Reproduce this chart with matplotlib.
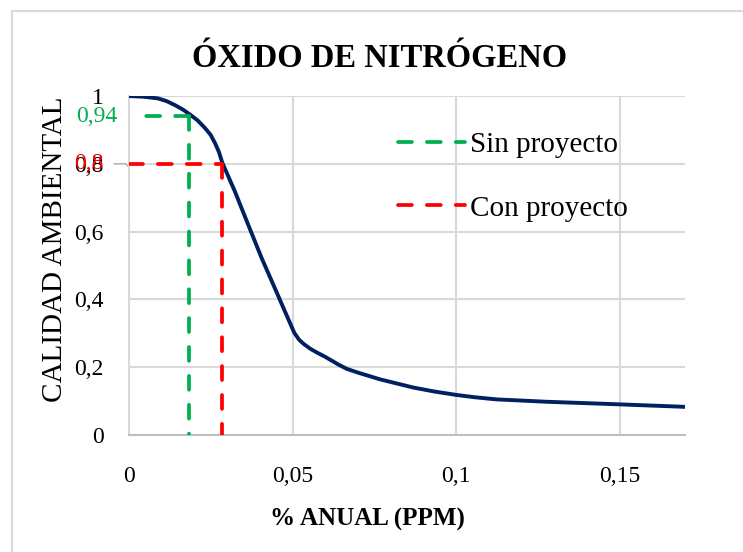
import matplotlib.pyplot as plt
from matplotlib.patches import Rectangle
from matplotlib.ticker import FuncFormatter

plt.rcParams['font.family'] = ['Liberation Serif', 'DejaVu Serif']

# quality curve for NOx (points read along the function)
x_ppm = [0, 0.0045, 0.0089, 0.0115, 0.0141, 0.0165, 0.0187, 0.0210, 0.0232,
         0.0250, 0.0263, 0.0275, 0.0285, 0.0324, 0.0365, 0.0406, 0.0446, 0.0477,
         0.0492, 0.0505, 0.0520, 0.0535, 0.0555, 0.0575, 0.0599, 0.0640, 0.0666,
         0.0700, 0.0768, 0.0869, 0.0935, 0.1002, 0.1060, 0.1124, 0.1277, 0.1481,
         0.1700]
calidad = [1.0, 0.998, 0.993, 0.985, 0.973, 0.960, 0.945, 0.928, 0.906,
           0.885, 0.861, 0.835, 0.804, 0.718, 0.619, 0.521, 0.433, 0.364,
           0.331, 0.302, 0.281, 0.268, 0.254, 0.243, 0.231, 0.208, 0.195,
           0.184, 0.164, 0.140, 0.128, 0.118, 0.111, 0.105, 0.098, 0.091,
           0.083]

sin_x, sin_y = 0.0185, 0.94
con_x, con_y = 0.0285, 0.80
sin_start = 0.005

xticks = [0, 0.05, 0.1, 0.15]
yticks = [0, 0.2, 0.4, 0.6, 0.8, 1]

fig = plt.figure(figsize=(7.43, 5.52), dpi=100)
fig.patches.append(Rectangle((0.0162, -0.1), 2, 1.08, transform=fig.transFigure,
                             fill=False, edgecolor='#d9d9d9', linewidth=1.5))
ax = fig.add_axes([0.1736, 0.212, 0.7484, 0.614])

ax.plot(x_ppm, calidad, color='#002060', linewidth=2.8, zorder=3,
        solid_joinstyle='round')

green = '#00B050'
red = '#FF0000'
dash = dict(linestyle=(0, (3.7, 4.0)), linewidth=2.7, dash_capstyle='round', zorder=4)
ax.plot([sin_x, sin_start], [sin_y, sin_y], color=green, **dash)
ax.plot([sin_x, sin_x], [sin_y, 0], color=green, label='Sin proyecto', **dash)
ax.plot([0, con_x], [con_y, con_y], color=red, **dash)
ax.plot([con_x, con_x], [con_y, 0], color=red, label='Con proyecto', **dash)

ax.set_xlim(0, 0.17)
ax.set_ylim(0, 1)
ax.set_xticks(xticks)
ax.set_yticks(yticks)
fmt = FuncFormatter(lambda v, p: ('%g' % v).replace('.', ','))
ax.xaxis.set_major_formatter(fmt)
ax.yaxis.set_major_formatter(fmt)
ax.tick_params(length=0, labelsize=17)
ax.tick_params(axis='y', pad=18)
ax.tick_params(axis='x', pad=22)
ax.grid(True, color='#d9d9d9', linewidth=1.5)
ax.set_axisbelow(True)
for s in ['top', 'right']:
    ax.spines[s].set_visible(False)
ax.spines['left'].set_color('#d9d9d9')
ax.spines['left'].set_linewidth(1.5)
ax.spines['bottom'].set_color('#bfbfbf')
ax.spines['bottom'].set_linewidth(1.5)

# value labels next to the y axis
ax.text(-0.0037, sin_y, '0,94', color=green, fontsize=17, ha='right', va='center')
ax.text(-0.0078, con_y, '0,8', color=red, fontsize=17, ha='right', va='center')
ax.plot([-0.0045, -0.001, 0], [con_y, con_y, con_y - 0.01], color='#a6a6a6',
        linewidth=1, clip_on=False)

ax.set_title('ÓXIDO DE NITRÓGENO', fontsize=23.5, fontweight='bold', pad=21, x=0.45)
ax.set_xlabel('% ANUAL (PPM)', fontsize=18, fontweight='bold')
ax.xaxis.set_label_coords(0.428, -0.215)
ax.set_ylabel('CALIDAD AMBIENTAL', fontsize=21)
ax.yaxis.set_label_coords(-0.11, 0.547)

ax.legend(loc='upper left', bbox_to_anchor=(0.484, 0.895), frameon=False, fontsize=21,
          handlelength=2.3, handletextpad=0.17, labelspacing=1.27, borderaxespad=0,
          borderpad=0)

fig.savefig('out.png', dpi=100)
